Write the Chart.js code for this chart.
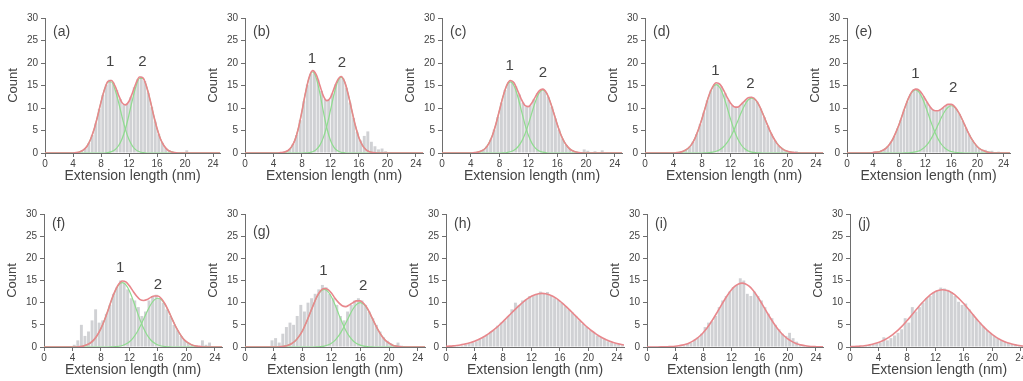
<!DOCTYPE html>
<html lang="en">
<head>
<meta charset="UTF-8">
<title>Extension length histograms</title>
<style>
    html, body {
        margin: 0;
        padding: 0;
        background: #fff;
    }
    body {
        width: 1023px;
        height: 381px;
        position: relative;
        overflow: hidden;
    }
    canvas.panel {
        position: absolute;
    }
</style>
</head>
<body>
<script src="https://cdn.jsdelivr.net/npm/chart.js"></script>
<script>
    // curves are sampled every 0.5 nm from 0 to 25 nm, histogram bins are 0.5 nm wide
    const curveStep = 0.5;
    const binWidth = 0.5;
    const xTicks = [0, 4, 8, 12, 16, 20, 24];
    const yTicks = [0, 5, 10, 15, 20, 25, 30];

    // (a)
    const histA = [0,0,0,0,0,0,0,0,0,0.2,0.5,1.0,2.2,4.0,6.6,9.8,12.9,15.2,16.3,15.6,14.0,12.0,10.8,11.0,12.4,14.6,16.4,17.0,16.0,13.4,10.2,7.0,4.2,2.3,1.1,0.5,0.2,0,0,0,0.6,0,0,0,0,0,0,0,0,0];
    const fitA = [0,0,0,0,0,0,0,0,0,0.1,0.3,0.7,1.5,3.0,5.2,8.1,11.3,14.1,15.9,16.1,14.9,12.9,11.2,10.7,11.5,13.4,15.5,16.9,16.7,14.8,11.9,8.5,5.5,3.1,1.6,0.7,0.3,0.1,0,0,0,0,0,0,0,0,0,0,0,0,0];
    const g1A = [0,0,0,0,0,0,0,0,0,0.1,0.29,0.7,1.53,2.98,5.2,8.1,11.31,14.12,15.78,15.78,14.12,11.31,8.1,5.2,2.98,1.53,0.7,0.29,0.1,0,0,0,0,0,0,0,0,0,0,0,0,0,0,0,0,0,0,0,0,0,0];
    const g2A = [0,0,0,0,0,0,0,0,0,0,0,0,0,0,0,0,0,0,0.11,0.3,0.74,1.61,3.13,5.45,8.51,11.87,14.83,16.56,16.56,14.83,11.87,8.51,5.45,3.13,1.61,0.74,0.3,0.11,0,0,0,0,0,0,0,0,0,0,0,0,0];
    const peaksA = [[9.3, 20.2], [13.9, 20.2]];

    // (b)
    const histB = [0,0,0,0,0,0,0,0,0,0,0.2,0.3,0.9,2.0,4.0,7.3,11.5,15.2,17.6,17.9,16.3,13.8,12.0,11.9,13.2,15.3,16.6,16.6,14.5,11.2,7.8,4.7,2.8,3.8,4.8,2.5,1.5,0.8,1.0,0.4,0,0,0,0,0,0,0,0,0,0];
    const fitB = [0,0,0,0,0,0,0,0,0,0,0.1,0.2,0.5,1.3,2.8,5.5,9.3,13.4,16.8,18.3,17.4,15.1,12.7,11.6,12.3,14.3,16.2,17.0,15.8,13.0,9.5,6.1,3.4,1.7,0.7,0.3,0.1,0,0,0,0,0,0,0,0,0,0,0,0,0,0];
    const g1B = [0,0,0,0,0,0,0,0,0,0,0.05,0.16,0.48,1.25,2.83,5.5,9.25,13.4,16.7,18,16.7,13.4,9.25,5.5,2.83,1.25,0.48,0.16,0.05,0,0,0,0,0,0,0,0,0,0,0,0,0,0,0,0,0,0,0,0,0,0];
    const g2B = [0,0,0,0,0,0,0,0,0,0,0,0,0,0,0,0,0,0.03,0.1,0.28,0.74,1.69,3.41,6.06,9.46,13.02,15.76,16.8,15.76,13.02,9.46,6.06,3.41,1.69,0.74,0.28,0.1,0.03,0,0,0,0,0,0,0,0,0,0,0,0,0];
    const peaksB = [[9.4, 21], [13.6, 20]];

    // (c)
    const histC = [0,0,0,0,0,0,0,0,0,0.1,0.3,0.7,1.5,3.0,5.2,8.0,11.2,14.0,15.7,16.0,14.8,13.0,11.2,10.3,10.6,11.9,13.3,14.1,13.9,12.5,10.3,7.7,5.2,3.2,1.8,0.9,0.4,0.2,0,0.8,0.5,0,0.4,0,0.6,0,0,0,0,0];
    const fitC = [0,0,0,0,0,0,0,0,0,0.1,0.2,0.5,1.0,2.1,3.9,6.5,9.6,12.7,15.1,16.1,15.6,13.9,12.0,10.6,10.3,11.2,12.6,13.8,14.2,13.4,11.5,9.0,6.4,4.1,2.4,1.3,0.6,0.3,0.1,0,0,0,0,0,0,0,0,0,0,0,0];
    const g1C = [0,0,0,0,0,0,0,0,0,0.06,0.18,0.45,1.04,2.13,3.93,6.49,9.58,12.66,14.95,15.8,14.95,12.66,9.58,6.49,3.93,2.13,1.04,0.45,0.18,0.06,0,0,0,0,0,0,0,0,0,0,0,0,0,0,0,0,0,0,0,0,0];
    const g2C = [0,0,0,0,0,0,0,0,0,0,0,0,0,0,0,0,0,0.04,0.11,0.27,0.61,1.28,2.41,4.13,6.41,9.02,11.52,13.33,14,13.33,11.52,9.02,6.41,4.13,2.41,1.28,0.61,0.27,0.11,0.04,0,0,0,0,0,0,0,0,0,0,0];
    const peaksC = [[9.4, 19.3], [14.0, 17.8]];

    // (d)
    const histD = [0,0,0,0,0,0,0,0,0,0.1,0.3,0.7,1.4,2.5,4.2,6.4,9.0,11.7,13.9,15.3,15.6,14.8,13.3,11.8,10.6,10.1,10.4,11.2,12.0,12.5,12.3,11.4,9.9,8.0,6.0,4.3,2.8,1.7,1.0,0.6,0.3,0.1,0.4,0,0,0,0,0,0,0];
    const fitD = [0,0,0,0,0,0,0,0,0,0.1,0.2,0.5,1.0,1.8,3.2,5.2,7.6,10.3,12.9,14.7,15.6,15.3,14.1,12.5,11.1,10.3,10.2,10.8,11.6,12.3,12.4,11.9,10.7,8.9,7.0,5.1,3.5,2.2,1.3,0.7,0.4,0.2,0.1,0,0,0,0,0,0,0,0];
    const g1D = [0,0,0,0,0,0,0,0,0.03,0.08,0.2,0.46,0.95,1.83,3.2,5.15,7.61,10.3,12.78,14.56,15.2,14.56,12.78,10.3,7.61,5.15,3.2,1.83,0.95,0.46,0.2,0.08,0.03,0,0,0,0,0,0,0,0,0,0,0,0,0,0,0,0,0,0];
    const g2D = [0,0,0,0,0,0,0,0,0,0,0,0,0,0,0,0,0,0.04,0.08,0.18,0.38,0.74,1.33,2.24,3.51,5.13,7.01,8.93,10.62,11.79,12.2,11.79,10.62,8.93,7.01,5.13,3.51,2.24,1.33,0.74,0.38,0.18,0.08,0.04,0,0,0,0,0,0,0];
    const peaksD = [[9.9, 18.2], [14.8, 15.3]];

    // (e)
    const histE = [0,0,0,0,0,0,0,0.1,0.4,0.3,0.5,0.9,1.5,2.4,3.8,5.5,7.4,9.6,11.5,13.1,14.2,14.3,13.6,12.6,11.4,10.2,9.6,9.3,9.6,10.1,10.6,10.9,10.6,9.8,8.7,7.2,5.6,4.1,2.8,1.8,1.1,0.6,0.7,0.3,0.5,0,0.3,0,0,0];
    const fitE = [0,0,0,0,0,0,0,0,0.1,0.2,0.3,0.6,1.1,1.9,3.0,4.6,6.4,8.5,10.6,12.4,13.7,14.2,14.0,13.2,12.0,10.8,9.8,9.4,9.4,9.8,10.4,10.8,10.8,10.3,9.3,8.0,6.4,4.8,3.4,2.3,1.4,0.8,0.5,0.2,0.1,0,0,0,0,0,0];
    const g1E = [0,0,0,0,0,0,0,0.03,0.07,0.16,0.32,0.61,1.11,1.89,3.03,4.55,6.41,8.49,10.57,12.36,13.57,14,13.57,12.36,10.57,8.49,6.41,4.55,3.03,1.89,1.11,0.61,0.32,0.16,0.07,0.03,0,0,0,0,0,0,0,0,0,0,0,0,0,0,0];
    const g2E = [0,0,0,0,0,0,0,0,0,0,0,0,0,0,0,0,0,0,0.02,0.05,0.12,0.24,0.46,0.84,1.42,2.27,3.41,4.81,6.37,7.93,9.27,10.18,10.5,10.18,9.27,7.93,6.37,4.81,3.41,2.27,1.42,0.84,0.46,0.24,0.12,0.05,0.02,0,0,0,0];
    const peaksE = [[10.5, 17.5], [16.3, 14.5]];

    // (f)
    const histF = [0,0,0,0,0,0,0,0,0.5,1.5,5.0,2.5,3.5,6.0,8.5,5.5,6.0,7.5,9.5,12.0,13.5,15.0,14.5,13.0,11.0,10.5,9.0,7.0,8.0,10.5,11.5,11.8,11.0,10.0,8.5,7.0,5.0,3.8,2.5,1.6,1.0,0.5,0.3,0,1.5,0.5,1.0,0,0,0];
    const fitF = [0,0,0,0,0,0,0,0,0,0,0.1,0.2,0.5,0.9,1.6,2.7,4.2,6.1,8.3,10.7,12.7,14.2,14.9,14.7,13.8,12.6,11.5,10.7,10.5,10.7,11.2,11.5,11.5,10.9,9.7,8.1,6.3,4.6,3.2,2.0,1.2,0.7,0.35,0.2,0.1,0,0,0,0,0,0];
    const g1F = [0,0,0,0,0,0,0,0,0,0.04,0.1,0.22,0.46,0.88,1.58,2.66,4.17,6.1,8.33,10.62,12.63,14.01,14.5,14.01,12.63,10.62,8.33,6.1,4.17,2.66,1.58,0.88,0.46,0.22,0.1,0.04,0,0,0,0,0,0,0,0,0,0,0,0,0,0,0];
    const g2F = [0,0,0,0,0,0,0,0,0,0,0,0,0,0,0,0,0,0,0,0.03,0.07,0.17,0.35,0.67,1.2,2.02,3.16,4.63,6.32,8.06,9.58,10.63,11,10.63,9.58,8.06,6.32,4.63,3.16,2.02,1.2,0.67,0.35,0.17,0.07,0.03,0,0,0,0,0];
    const peaksF = [[10.7, 17.8], [16.0, 14.0]];

    // (g)
    const histG = [0,0,0,0,0,0,0,1.5,2.0,1.0,3.0,4.5,5.5,5.0,7.0,9.5,8.0,10.0,11.0,12.0,13.0,14.0,13.5,12.0,11.0,9.5,7.0,6.0,8.0,9.5,10.5,11.0,10.5,9.5,8.0,6.5,5.0,3.5,2.2,1.4,0.8,0.4,1.0,0.3,0,0,0,0,0,0];
    const fitG = [0,0,0,0,0,0,0,0,0,0,0.1,0.2,0.4,0.8,1.4,2.4,3.7,5.5,7.5,9.5,11.4,12.7,13.2,13.0,12.2,11.0,10.0,9.3,9.1,9.5,10.0,10.4,10.4,9.8,8.7,7.1,5.4,3.8,2.5,1.5,0.9,0.4,0.2,0.1,0,0,0,0,0,0,0];
    const g1G = [0,0,0,0,0,0,0,0,0,0.04,0.09,0.2,0.41,0.79,1.42,2.38,3.74,5.47,7.47,9.52,11.32,12.56,13,12.56,11.32,9.52,7.47,5.47,3.74,2.38,1.42,0.79,0.41,0.2,0.09,0.04,0,0,0,0,0,0,0,0,0,0,0,0,0,0,0];
    const g2G = [0,0,0,0,0,0,0,0,0,0,0,0,0,0,0,0,0,0,0,0,0.04,0.09,0.21,0.44,0.85,1.51,2.49,3.81,5.39,7.07,8.57,9.62,10,9.62,8.57,7.07,5.39,3.81,2.49,1.51,0.85,0.44,0.21,0.09,0.04,0,0,0,0,0,0];
    const peaksG = [[10.9, 17.1], [16.4, 13.8]];

    // (h)
    const histH = [0.1,0.1,0.2,0.2,0.3,0.5,0.8,1.0,1.3,1.8,2.2,2.8,3.4,3.8,4.8,5.5,6.0,7.0,8.5,10.0,9.5,10.5,10.8,11.5,11.7,12.0,12.5,12.2,12.4,11.5,11.0,10.6,10.0,9.2,8.5,7.8,7.0,6.0,5.2,4.6,3.8,3.4,2.6,2.2,1.8,1.3,1.0,0.8,0.6,0.4];
    const fitH = [0.13,0.19,0.26,0.35,0.46,0.61,0.79,1.02,1.3,1.64,2.03,2.49,3.02,3.61,4.26,4.97,5.73,6.53,7.34,8.15,8.94,9.69,10.37,10.96,11.45,11.8,12.03,12.1,12.03,11.8,11.45,10.96,10.37,9.69,8.94,8.15,7.34,6.53,5.73,4.97,4.26,3.61,3.02,2.49,2.03,1.64,1.3,1.02,0.79,0.61,0.46];

    // (i)
    const histI = [0,0,0,0,0,0,0,0,0.1,0.2,0.4,0.7,1.0,1.6,2.2,3.0,4.5,5.5,5.8,7.0,9.0,10.5,11.5,12.5,13.5,14.0,15.5,15.0,12.0,11.5,12.5,11.5,10.5,9.0,7.5,6.5,5.0,4.0,3.0,2.5,3.2,2.0,1.2,0.6,0.4,0.2,0,0,0,0];
    const fitI = [0,0,0.01,0.01,0.02,0.04,0.07,0.11,0.18,0.28,0.42,0.63,0.92,1.32,1.83,2.48,3.29,4.25,5.36,6.59,7.92,9.28,10.61,11.85,12.9,13.71,14.23,14.4,14.23,13.71,12.9,11.85,10.61,9.28,7.92,6.59,5.36,4.25,3.29,2.48,1.83,1.32,0.92,0.63,0.42,0.28,0.18,0.11,0.07,0.04,0.03];

    // (j)
    const histJ = [0,0,0,0,0.3,0.4,0.6,0.8,1.0,2.2,1.5,2.0,2.6,3.2,4.0,6.5,5.5,9.0,8.0,9.0,10.0,11.0,11.5,12.3,12.8,13.4,13.2,12.9,12.4,11.5,10.2,9.5,9.8,8.5,7.4,6.3,5.5,4.6,3.8,3.1,2.5,2.0,1.5,1.2,0.9,0.7,0.5,0.3,0.2,0.1];
    const fitJ = [0.07,0.1,0.14,0.21,0.29,0.41,0.57,0.77,1.03,1.35,1.75,2.22,2.79,3.45,4.19,5.01,5.91,6.85,7.82,8.8,9.74,10.61,11.38,12.02,12.5,12.8,12.9,12.8,12.5,12.02,11.38,10.61,9.74,8.8,7.82,6.85,5.91,5.01,4.19,3.45,2.79,2.22,1.75,1.35,1.03,0.77,0.57,0.41,0.29,0.21,0.14];

    const barGray = '#d0d1d4';
    const fitRed = '#e8878c';
    const compGreen = '#8fdc8f';
    const axisGray = '#6e6e6e';
    const textColor = '#444';
    const fontFamily = '"Liberation Sans", Arial, sans-serif';

    // placement of each panel: left edge of plot area, pixels per nm, row
    const rows = [
        { top: 0, plotH: 135, letterDy: 14 },
        { top: 196, plotH: 133, letterDy: 10 }
    ];
    const panels = [
        { letter: '(a)', hist: histA, fit: fitA, comps: [g1A, g2A], peaks: peaksA, x0: 45, ppn: 7.0, row: 0 },
        { letter: '(b)', hist: histB, fit: fitB, comps: [g1B, g2B], peaks: peaksB, x0: 245, ppn: 7.1, row: 0 },
        { letter: '(c)', hist: histC, fit: fitC, comps: [g1C, g2C], peaks: peaksC, x0: 442, ppn: 7.2, row: 0 },
        { letter: '(d)', hist: histD, fit: fitD, comps: [g1D, g2D], peaks: peaksD, x0: 645, ppn: 7.1, row: 0 },
        { letter: '(e)', hist: histE, fit: fitE, comps: [g1E, g2E], peaks: peaksE, x0: 847, ppn: 6.5, row: 0 },
        { letter: '(f)', hist: histF, fit: fitF, comps: [g1F, g2F], peaks: peaksF, x0: 44, ppn: 7.1, row: 1 },
        { letter: '(g)', hist: histG, fit: fitG, comps: [g1G, g2G], peaks: peaksG, x0: 245, ppn: 7.2, row: 1, letterDy: 18 },
        { letter: '(h)', hist: histH, fit: fitH, comps: [], peaks: [], x0: 446, ppn: 7.1, row: 1 },
        { letter: '(i)', hist: histI, fit: fitI, comps: [], peaks: [], x0: 647, ppn: 7.05, row: 1 },
        { letter: '(j)', hist: histJ, fit: fitJ, comps: [], peaks: [], x0: 850, ppn: 7.1, row: 1 }
    ];

    Chart.defaults.font.family = fontFamily;

    function toPoints(values, start, step) {
        return values.map((v, i) => ({ x: start + i * step, y: v }));
    }

    // panel letter and peak numbers
    const panelText = {
        id: 'panelText',
        afterDatasetsDraw(chart, args, opts) {
            const { ctx, chartArea, scales } = chart;
            ctx.save();
            ctx.fillStyle = textColor;
            ctx.textBaseline = 'middle';
            ctx.textAlign = 'left';
            ctx.font = '14px ' + fontFamily;
            ctx.fillText(opts.letter, chartArea.left + 8, chartArea.top + opts.letterDy);
            ctx.textAlign = 'center';
            ctx.font = '15px ' + fontFamily;
            opts.peaks.forEach((pk, i) => {
                ctx.fillText(String(i + 1), scales.x.getPixelForValue(pk[0]), scales.y.getPixelForValue(pk[1]));
            });
            ctx.restore();
        }
    };

    function lineSet(values, color, width) {
        return {
            type: 'line',
            data: toPoints(values, 0, curveStep),
            borderColor: color,
            borderWidth: width,
            pointRadius: 0,
            fill: false,
            cubicInterpolationMode: 'monotone'
        };
    }

    panels.forEach(p => {
        const row = rows[p.row];
        const canvas = document.createElement('canvas');
        canvas.className = 'panel';
        canvas.width = Math.round(45 + 25 * p.ppn + 4);
        canvas.height = 18 + row.plotH + 32;
        canvas.style.left = (p.x0 - 45) + 'px';
        canvas.style.top = row.top + 'px';
        document.body.appendChild(canvas);

        // first dataset is drawn on top
        const datasets = [lineSet(p.fit, fitRed, 1.6)];
        p.comps.forEach(c => datasets.push(lineSet(c, compGreen, 1.2)));
        datasets.push({
            type: 'bar',
            data: toPoints(p.hist, binWidth / 2, binWidth),
            backgroundColor: barGray,
            borderWidth: 0,
            barPercentage: 0.82,
            categoryPercentage: 1
        });

        new Chart(canvas, {
            type: 'bar',
            data: { datasets: datasets },
            options: {
                responsive: false,
                animation: false,
                layout: { padding: { top: 18, right: 4, bottom: 0, left: 0 } },
                plugins: {
                    legend: { display: false },
                    tooltip: { enabled: false },
                    panelText: { letter: p.letter, peaks: p.peaks, letterDy: p.letterDy || row.letterDy }
                },
                scales: {
                    x: {
                        type: 'linear',
                        min: 0,
                        max: 25,
                        offset: false,
                        afterBuildTicks: s => { s.ticks = xTicks.map(v => ({ value: v })); },
                        afterFit: s => { s.height = 32; },
                        grid: { drawOnChartArea: false, offset: false, tickLength: 4, color: axisGray },
                        border: { color: axisGray, width: 1 },
                        ticks: { font: { size: 10 }, color: textColor, padding: 1, maxRotation: 0, autoSkip: false },
                        title: { display: true, text: 'Extension length (nm)', font: { size: 14 }, color: textColor, padding: { top: 0, bottom: 0 } }
                    },
                    y: {
                        type: 'linear',
                        min: 0,
                        max: 30,
                        afterBuildTicks: s => { s.ticks = yTicks.map(v => ({ value: v })); },
                        afterFit: s => { s.width = 45; },
                        grid: { drawOnChartArea: false, tickLength: 4, color: axisGray },
                        border: { color: axisGray, width: 1 },
                        ticks: { font: { size: 10 }, color: textColor, padding: 3 },
                        title: { display: true, text: 'Count', font: { size: 13 }, color: textColor, padding: { top: 6, bottom: 0 } }
                    }
                }
            },
            plugins: [panelText]
        });
    });
</script>
</body>
</html>
